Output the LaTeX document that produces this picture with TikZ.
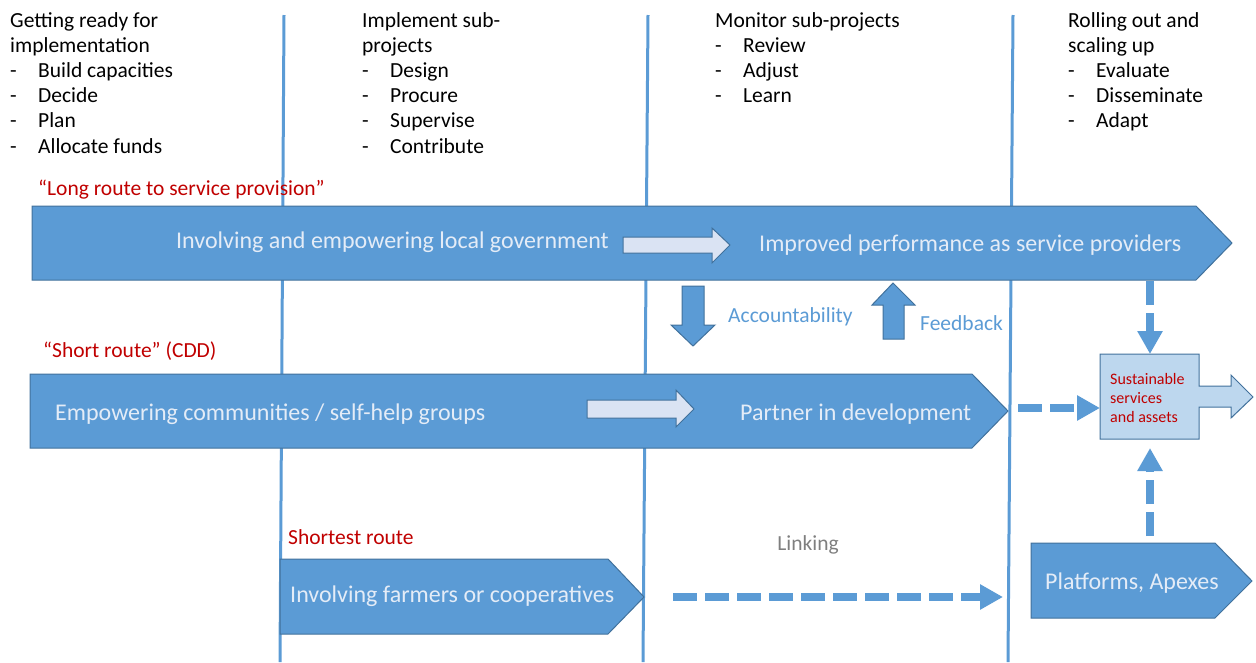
\documentclass[tikz,border=0pt]{standalone}
\usepackage{fontspec}
\setmainfont{Carlito}
\usetikzlibrary{arrows.meta}
\definecolor{routeBlue}{HTML}{5B9BD5}
\definecolor{edgeBlue}{HTML}{41719C}
\definecolor{paleBlue}{HTML}{DAE3F3}
\definecolor{boxBlue}{HTML}{BDD7EE}
\definecolor{routeRed}{HTML}{C00000}
\definecolor{softWhite}{HTML}{E4ECF7}
\definecolor{linkGray}{HTML}{7F7F7F}
\newcommand{\phaseitem}[1]{\makebox[28pt][l]{-}#1}

\begin{document}
\begin{tikzpicture}[x=1pt, y=-1pt,
  lane/.style={routeBlue, line width=3pt},
  route/.style={fill=routeBlue, draw=edgeBlue, line width=1pt},
  stepper/.style={fill=paleBlue, draw=edgeBlue, line width=1pt},
  link/.style={routeBlue, line width=8pt, dash pattern=on 24pt off 8pt,
    -{Triangle[width=24pt,length=23pt]}},
  phase/.style={anchor=north west, inner sep=0pt, align=left,
    font=\fontsize{21.5}{25.2}\selectfont},
  routetext/.style={anchor=west, inner sep=0pt, text=softWhite,
    font=\fontsize{24}{28}\selectfont},
  redlabel/.style={anchor=west, inner sep=0pt, text=routeRed,
    font=\fontsize{21.5}{25}\selectfont},
  flowlabel/.style={anchor=west, inner sep=0pt, text=routeBlue,
    font=\fontsize{21.5}{25}\selectfont}]
 	\useasboundingbox (0,0) rectangle (1256,662);
 	% phase separators
 	\draw[lane] (284,15) -- (280,662);
 	\draw[lane] (648,15) -- (643,662);
 	\draw[lane] (1013,15) -- (1008,662);
 	% phases
 	\node[phase] (ready) at (10,12) {Getting ready for\\implementation\\\phaseitem{Build capacities}\\\phaseitem{Decide}\\\phaseitem{Plan}\\\phaseitem{Allocate funds}};
 	\node[phase] (implement) at (362,12) {Implement sub-\\projects\\\phaseitem{Design}\\\phaseitem{Procure}\\\phaseitem{Supervise}\\\phaseitem{Contribute}};
 	\node[phase] (monitor) at (715,12) {Monitor sub-projects\\\phaseitem{Review}\\\phaseitem{Adjust}\\\phaseitem{Learn}};
 	\node[phase] (rollout) at (1068,12) {Rolling out and\\scaling up\\\phaseitem{Evaluate}\\\phaseitem{Disseminate}\\\phaseitem{Adapt}};
 	% routes
 	\draw[route] (32,206) -- (1196,206) -- (1232,243) -- (1196,280) -- (32,280) -- cycle;
 	\draw[route] (30,374) -- (972,374) -- (1008,411) -- (972,448) -- (30,448) -- cycle;
 	\draw[route] (280,559) -- (608,559) -- (644,597) -- (608,634) -- (280,634) -- cycle;
 	\draw[route] (1031,543) -- (1215,543) -- (1252,581) -- (1215,618) -- (1031,618) -- cycle;
 	\draw[stepper] (623,237) -- (712,237) -- (712,228) -- (730,245) -- (712,263) -- (712,253) -- (623,253) -- cycle;
 	\draw[stepper] (587,400) -- (676,400) -- (676,390) -- (694,409) -- (676,427) -- (676,418) -- (587,418) -- cycle;
 	% accountability and feedback
 	\draw[route] (682,286) -- (704,286) -- (704,325) -- (715,325) -- (693,346) -- (671,325) -- (682,325) -- cycle;
 	\draw[route] (883,339) -- (904,339) -- (904,305) -- (915,305) -- (893,283) -- (872,305) -- (883,305) -- cycle;
 	% outcome
 	\draw[fill=boxBlue, draw=edgeBlue, line width=1pt] (1100,354) -- (1199,354) -- (1199,386) -- (1231,386) -- (1231,375) -- (1253,397) -- (1231,418) -- (1231,407) -- (1199,407) -- (1199,439) -- (1100,439) -- cycle;
 	\node[anchor=west, inner sep=0pt, align=left, text=routeRed, font=\fontsize{16}{19}\selectfont] (sust) at (1110,398) {Sustainable\\services\\and assets};
 	% labels
 	\node[redlabel] (longroute) at (38,190) {“Long route to service provision”};
 	\node[redlabel] (shortroute) at (43,351) {“Short route”\ (CDD)};
 	\node[redlabel] (shortest) at (288,537) {Shortest route};
 	\node[routetext] (localgov) at (176,242) {Involving and empowering local government};
 	\node[routetext] (providers) at (759,245) {Improved performance as service providers};
 	\node[routetext] (communities) at (55,414) {Empowering communities / self-help groups};
 	\node[routetext] (partner) at (740,414) {Partner in development};
 	\node[routetext] (farmers) at (290,596) {Involving farmers or cooperatives};
 	\node[routetext] (apexes) at (1045,583) {Platforms, Apexes};
 	\node[flowlabel] (account) at (728,317) {Accountability};
 	\node[flowlabel] (feedback) at (920,323) {Feedback};
 	\node[anchor=center, inner sep=0pt, text=linkGray, font=\fontsize{21.5}{25}\selectfont] (linking) at (808,545) {Linking};
 	% dashed links
 	\coordinate (lgout) at (1150,281);
 	\coordinate (susttop) at (1150,354);
 	\coordinate (sdout) at (1018,408);
 	\coordinate (sustleft) at (1100,408);
 	\coordinate (apextop) at (1150,536);
 	\coordinate (sustbase) at (1150,448);
 	\coordinate (farmout) at (673,597);
 	\coordinate (apexin) at (1003,597);
 	\draw[link] (lgout) -- (susttop);
 	\draw[link] (sdout) -- (sustleft);
 	\draw[link] (apextop) -- (sustbase);
 	\draw[link] (farmout) -- (apexin);
\end{tikzpicture}
\end{document}
